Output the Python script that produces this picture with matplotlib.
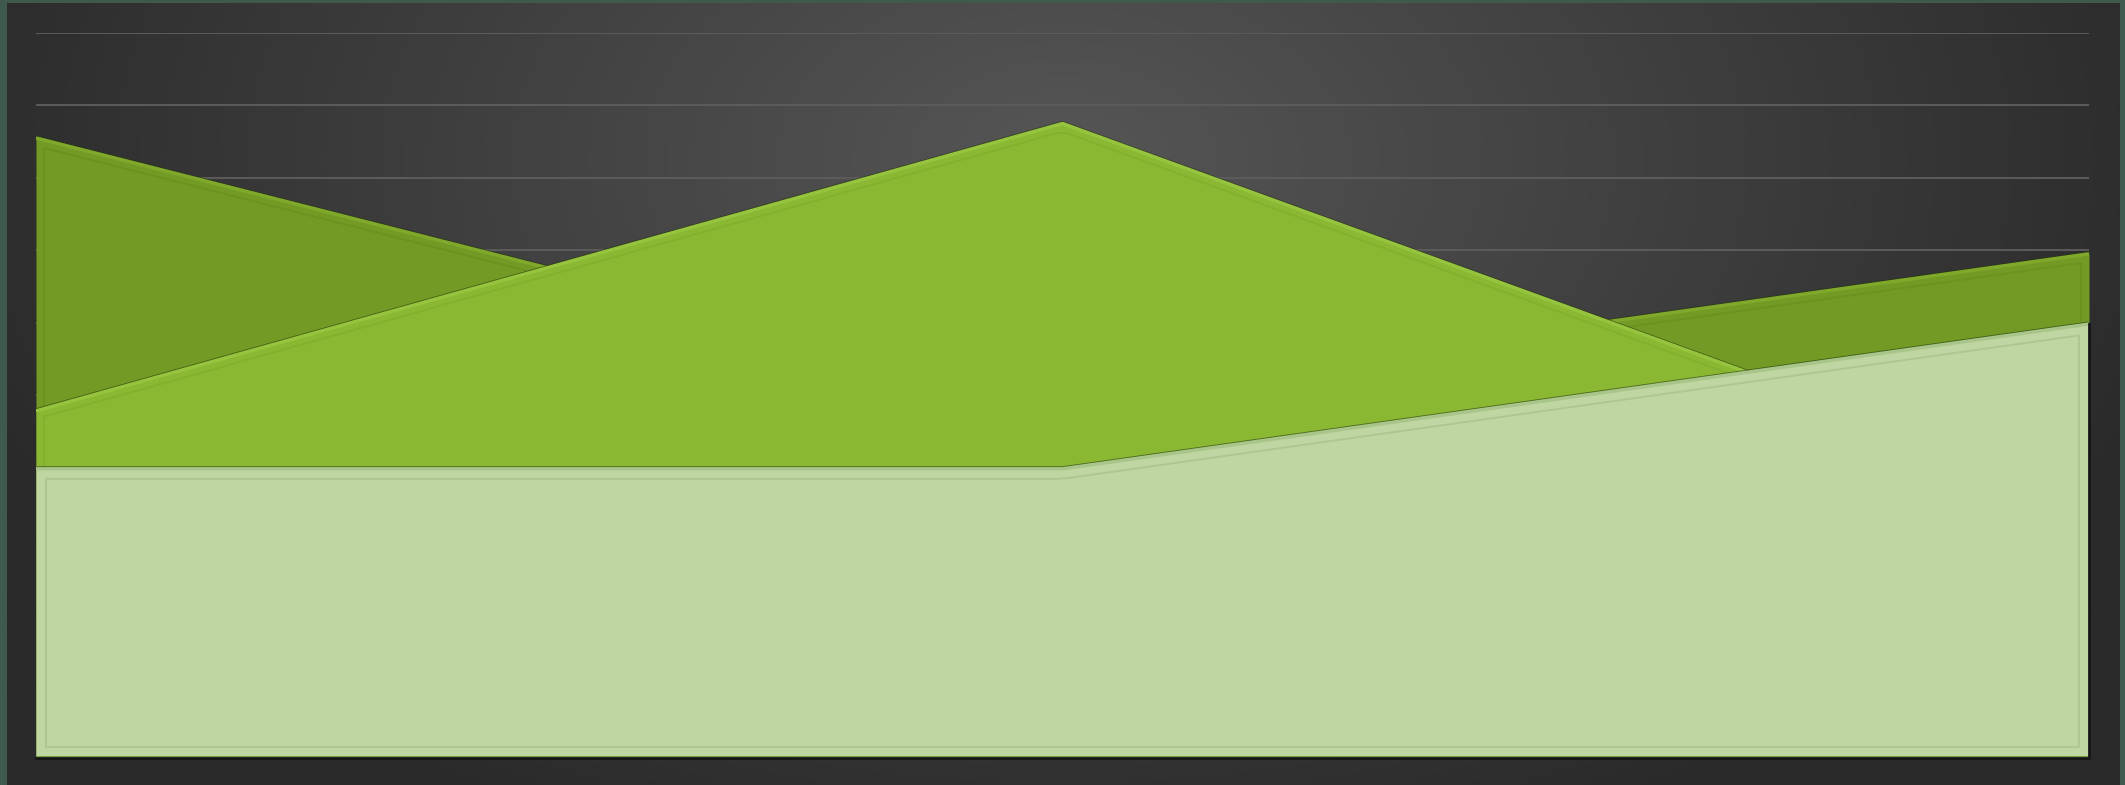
import numpy as np
import matplotlib
matplotlib.use('Agg')
import matplotlib.pyplot as plt

# data (three overlapping area series, 3 points each)
points = [0, 1, 2]
series_back = [8.55, 4.95, 6.95]
series_mid = [4.78, 8.75, 3.6]
series_front = [3.98, 3.98, 5.98]
grid_levels = [1, 2, 3, 4, 5, 6, 7, 8, 9, 10]

W, H = 2125, 785
fig = plt.figure(figsize=(W / 100, H / 100), dpi=100)
fig.patch.set_facecolor('#3f5a4c')

# background with radial gradient
bg = fig.add_axes([7 / W, 0, (W - 12) / W, (H - 3) / H])
bg.set_axis_off()
yy, xx = np.mgrid[0:1:400j, 0:1:1000j]
r = np.sqrt(((xx - 0.5) / 0.55) ** 2 + ((yy - 0.2) / 0.95) ** 2)
r = np.clip(r, 0, 1)
light = np.array([0x56, 0x56, 0x56]) / 255
dark = np.array([0x2a, 0x2a, 0x2a]) / 255
img = light[None, None, :] * (1 - r[..., None]) + dark[None, None, :] * r[..., None]
bg.imshow(img, aspect='auto', extent=[0, 1, 0, 1], origin='upper')

ax = fig.add_axes([36 / W, 28 / H, 2053 / W, 724 / H])
ax.set_facecolor('none')
ax.set_xlim(0, 2)
ax.set_ylim(0, 10)
ax.set_axis_off()

for g in grid_levels:
    ax.axhline(g, color='#5c5c5c', lw=1.4, zorder=0)

# px -> data helpers for the bevel lines
dx = 2 / 2053
dy = 10 / 724


def draw_area(vals, fill, edge, inner, z, inset=8):
    x = np.array(points, dtype=float)
    y = np.array(vals, dtype=float)
    ax.fill_between(x, 0, y, color=fill, lw=0, zorder=z)
    # dark shadow just above the top edge
    ax.plot(x, y + 1.5 * dy, color='#24360a', lw=1.6, alpha=0.6, zorder=z + 0.1,
            solid_capstyle='butt')
    ax.plot(x, y, color=edge, lw=2.5, zorder=z + 0.2, solid_capstyle='butt')
    # inner bevel
    xi = np.linspace(x[0] + inset * dx, x[-1] - inset * dx, 200)
    yi = np.interp(xi, x, y) - inset * dy
    ax.plot(np.r_[xi[0], xi, xi[-1], xi[0], xi[0]],
            np.r_[inset * dy, yi, inset * dy, inset * dy, yi[0]],
            color=inner, lw=1.4, alpha=0.7, zorder=z + 0.3)


draw_area(series_back, '#729a24', '#80a92c', '#6a8f1f', 2)
draw_area(series_mid, '#8ab833', '#97c43e', '#82ad2f', 3)
draw_area(series_front, '#bfd6a3', '#a9c58a', '#a8bf8e', 4, inset=10)

# bottom and right edge of plot
ax.axhline(0, color='#6f9a3a', lw=2, zorder=5)
ax.plot([0, 2, 2], [-0.7 * dy, -0.7 * dy, series_front[-1]], color='#151515',
        lw=2, zorder=5, clip_on=False)

fig.savefig('out.png', dpi=100, facecolor=fig.get_facecolor())
